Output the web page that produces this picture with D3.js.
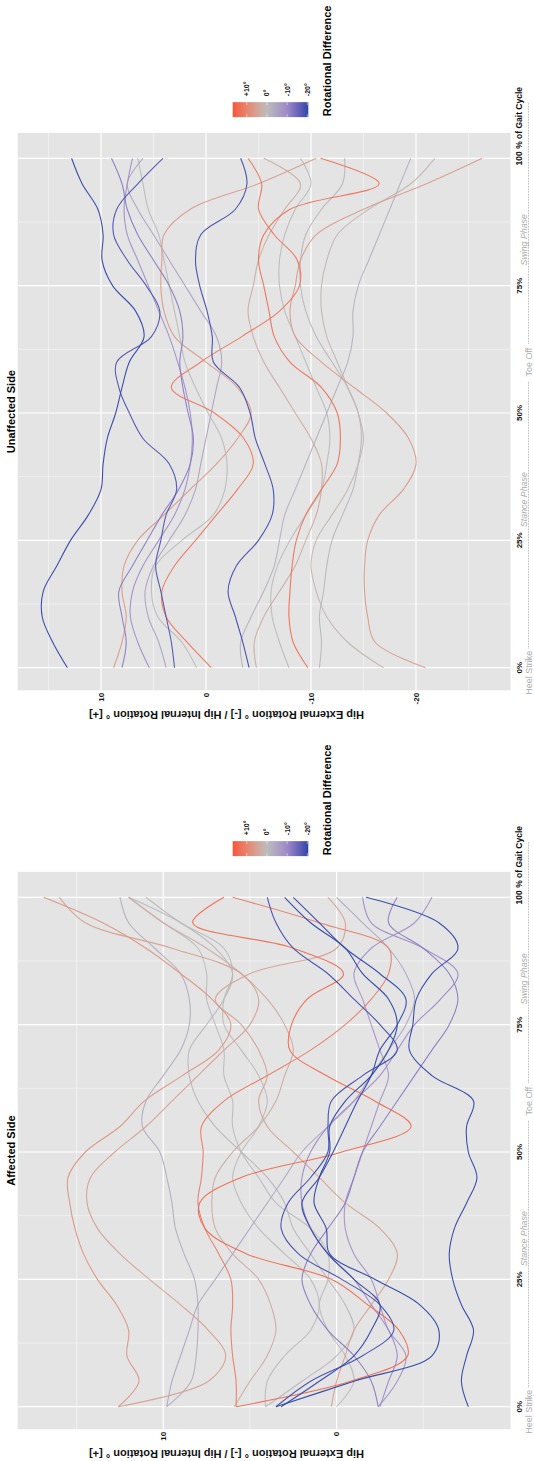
<!DOCTYPE html>
<html>
<head>
<meta charset="utf-8">
<script src="https://cdn.jsdelivr.net/npm/d3@7"></script>
<style>
  body { margin: 0; background: #fff; }
  svg { display: block; }
  text { font-family: "Liberation Sans", Arial, sans-serif; }
</style>
</head>
<body>
<svg id="chart" width="534" height="1461"></svg>
<script>
// Gait cycle sample points (% of gait cycle)
const gaitCycle = d3.range(0, 101, 5);

// Axis ticks
const xMajorTicks = [0, 25, 50, 75, 100];
const xMinorTicks = [12.5, 37.5, 62.5, 87.5];
const xTickLabels = ["0%", "25%", "50%", "75%", "100"];
const affectedYMajor = [0, 10];
const affectedYMinor = [-5, 5, 15];
const unaffectedYMajor = [-20, -10, 0, 10];
const unaffectedYMinor = [-25, -15, -5, 5, 15];
const legendTicks = [10, 0, -10, -20];
const legendLabels = ["+10°", "0°", "-10°", "-20°"];

// Rotational difference per subject (colour of each curve)
const affectedDiff = [7, 5, -3, 14, 11, 3, 0, -19, -20, -21, -10, -20, -1, -8, 5, 0, -12, -4];
// Hip rotation (deg) on the affected side, one row per subject, sampled at gaitCycle
const affectedRotation = [
  [12.6, 11.4, 12.1, 12.0, 12.7, 13.8, 14.6, 15.1, 15.4, 15.5, 14.5, 12.5, 11.1, 8.9, 6.8, 6.1, 7.2, 9.0, 11.0, 13.5, 16.9],
  [12.6, 7.4, 6.4, 7.4, 9.0, 10.8, 12.5, 13.8, 14.4, 14.2, 12.8, 11.0, 9.5, 8.0, 6.5, 5.0, 4.5, 5.5, 9.5, 14.5, 16.0],
  [9.8, 8.4, 8.1, 8.0, 8.0, 8.2, 8.8, 9.3, 9.5, 9.8, 10.2, 11.2, 11.0, 10.0, 9.0, 8.5, 8.5, 9.0, 10.5, 12.0, 12.5],
  [5.8, -0.8, -4.1, -3.6, -1.8, 0.3, 5.2, 7.6, 7.9, 5.5, -0.3, -4.3, -2.2, 0.6, 2.7, 2.6, 1.7, -0.4, 2.5, 8.3, 6.5],
  [5.8, 5.8, 6.0, 6.1, 6.0, 6.1, 6.8, 7.6, 8.0, 7.8, 7.7, 7.8, 6.5, 4.0, 1.5, -0.5, -2.0, -3.0, -3.0, 1.0, 6.0],
  [5.9, 5.0, 4.0, 3.5, 3.8, 4.5, 6.0, 7.0, 7.2, 7.0, 6.0, 4.5, 3.5, 3.0, 2.5, 3.0, 4.0, 5.5, 7.5, 10.0, 12.0],
  [4.1, 4.0, 3.0, 1.5, 1.0, 1.5, 3.0, 4.5, 5.5, 6.0, 5.5, 4.5, 4.0, 4.5, 5.5, 6.5, 6.5, 6.0, 6.5, 9.0, 11.0],
  [3.5, 1.5, -1.5, -3.3, -2.5, -0.3, 2.2, 3.2, 2.8, 1.5, 0.5, 0.5, 0.3, -1.5, -3.5, -2.5, -1.0, 0.5, 2.5, 3.5, 4.0],
  [3.2, 1.0, -1.0, -2.0, -2.5, -1.0, 0.5, 1.5, 2.0, 1.0, 0.2, -0.5, -1.2, -2.0, -2.5, -3.5, -4.0, -2.5, -0.5, 1.0, 2.5],
  [3.5, -1.0, -5.5, -5.9, -4.8, -2.2, 0.4, 0.6, 1.3, 1.0, 0.4, 0.4, -0.5, -2.0, -3.0, -3.5, -3.0, -1.5, -0.5, 1.5, 3.0],
  [-2.5, -3.0, -3.5, -3.0, -2.0, -1.0, 0.5, 1.5, 2.0, 2.0, 1.5, 0.5, -1.0, -2.5, -3.5, -4.5, -6.0, -7.0, -5.0, -2.0, -1.5],
  [-7.6, -7.2, -7.5, -7.9, -7.2, -6.7, -6.5, -6.8, -7.5, -8.1, -7.6, -7.5, -7.9, -5.5, -4.2, -4.4, -4.6, -5.5, -7.0, -5.9, -1.7],
  [4.1, 2.0, 0.0, -1.0, -0.5, 0.5, 1.5, 2.5, 3.0, 4.0, 5.5, 7.0, 8.0, 8.5, 8.5, 7.5, 6.5, 6.0, 7.0, 9.0, 12.0],
  [-2.4, -3.5, -4.0, -3.0, -2.5, -2.0, -1.0, -0.5, -0.5, -1.0, -1.5, -2.0, -2.5, -3.0, -2.5, -2.0, -1.5, -1.0, -2.0, -4.5, -5.5],
  [0.3, 0.0, -0.5, -1.0, -2.0, -3.0, -3.5, -2.5, -0.5, 1.0, 2.5, 4.0, 4.5, 4.0, 4.5, 5.5, 7.0, 5.0, 0.0, -0.5, 0.5],
  [0.0, -1.0, -0.5, 0.5, 1.0, 0.5, 0.5, 1.5, 3.5, 4.5, 5.5, 6.0, 6.0, 6.5, 6.5, 7.0, 7.5, 7.5, 8.0, 10.0, 12.0],
  [-2.4, -2.0, -1.0, 0.5, 1.5, 2.0, 1.5, 0.5, -0.5, -1.0, -1.5, -2.5, -3.5, -4.5, -5.5, -6.5, -7.0, -6.5, -5.0, -3.0, -3.5],
  [9.8, 9.5, 9.0, 8.5, 8.0, 7.0, 6.0, 5.0, 4.0, 3.0, 2.0, 0.5, -1.0, -2.0, -3.0, -4.0, -4.5, -4.0, -3.0, -1.5, 0.0]
];

const unaffectedDiff = [-20, -18, -19, -12, -9, -5, 0, 12, 6, -2, 3, 13, 0, -1, 1, 6];
// Hip rotation (deg) on the unaffected side
const unaffectedRotation = [
  [13.2, 14.6, 15.6, 15.5, 14.2, 12.9, 11.2, 10.0, 9.8, 9.4, 8.6, 8.0, 7.3, 5.9, 6.7, 8.9, 9.9, 9.8, 10.3, 11.8, 12.8],
  [3.0, 3.3, 3.8, 4.3, 4.8, 4.3, 3.8, 2.8, 3.5, 6.0, 7.3, 8.3, 8.5, 5.2, 4.4, 5.7, 7.5, 8.8, 8.5, 6.5, 4.1],
  [-4.1, -3.5, -2.8, -2.1, -2.9, -5.0, -6.3, -6.4, -5.6, -4.7, -4.2, -3.2, -0.7, -0.6, -0.1, 0.6, 1.0, 0.5, -2.8, -3.9, -3.3],
  [8.0, 7.6, 8.0, 8.3, 7.0, 5.6, 4.2, 2.6, 1.5, 1.2, 1.7, 2.2, 2.5, 2.2, 2.5, 3.5, 5.0, 6.5, 7.5, 8.0, 9.0],
  [5.4, 6.5, 7.2, 7.0, 6.0, 4.5, 3.0, 2.0, 1.5, 1.3, 1.5, 2.0, 2.7, 3.5, 4.5, 5.5, 6.5, 7.5, 7.8, 7.5, 7.0],
  [3.8, 4.5, 5.5, 5.8, 5.0, 3.5, 2.0, 1.0, 0.5, 0.0, -0.5, -1.0, -1.5, -1.0, 0.5, 2.0, 3.5, 5.0, 6.5, 7.5, 6.0],
  [0.9, 2.3, 4.6, 5.2, 4.8, 2.3, -0.7, -1.8, -2.0, -1.5, -0.2, 1.0, 2.0, 2.5, 3.0, 3.5, 4.0, 4.5, 5.5, 6.0, 6.5],
  [-0.5, 1.8, 3.8, 4.2, 3.0, 1.0, -1.0, -3.0, -4.5, -3.6, -0.8, 3.3, 0.5, -3.4, -7.0, -8.9, -8.7, -6.5, -5.0, -5.3, -4.0],
  [8.8, 8.0, 7.6, 8.0, 7.8, 6.5, 4.0, 1.5, -1.0, -3.0, -4.3, -3.0, 0.0, 3.0, 4.0, 4.3, 4.2, 4.0, 1.5, -5.0, -10.5],
  [-3.5, -3.3, -4.3, -5.5, -6.5, -7.0, -7.5, -8.5, -9.5, -10.5, -11.5, -12.5, -13.5, -14.0, -14.0, -14.5, -15.5, -16.5, -17.5, -18.5, -19.5],
  [-4.8, -4.6, -5.5, -7.0, -8.5, -9.5, -10.5, -11.0, -11.0, -10.0, -8.5, -7.0, -5.5, -4.5, -4.0, -4.5, -5.0, -6.0, -7.5, -9.0, -5.5],
  [-9.7, -8.3, -7.9, -8.0, -8.2, -8.6, -9.5, -11.0, -12.5, -12.8, -12.5, -11.0, -8.0, -6.5, -6.0, -5.5, -5.0, -5.5, -8.0, -16.5, -10.9],
  [-7.9, -7.0, -6.3, -6.2, -6.8, -8.0, -9.5, -11.0, -11.5, -11.8, -11.5, -10.5, -9.5, -8.5, -7.5, -7.0, -7.0, -7.5, -8.5, -10.0, -9.0],
  [-10.8, -11.0, -10.8, -11.2, -11.5, -12.0, -13.0, -14.0, -14.5, -14.8, -14.5, -13.5, -12.0, -10.5, -9.5, -9.0, -9.0, -9.5, -11.0, -13.0, -13.2],
  [-16.9, -13.5, -11.5, -10.5, -10.0, -10.5, -12.0, -13.5, -14.5, -15.0, -14.5, -13.5, -12.5, -11.5, -11.0, -11.0, -11.5, -12.5, -15.5, -19.5, -21.8],
  [-20.9, -16.1, -15.4, -15.1, -15.1, -15.4, -16.5, -18.8, -20.0, -19.3, -17.2, -14.1, -11.0, -8.5, -8.0, -8.5, -9.0, -10.5, -15.0, -21.0, -26.3]
];

// ---- drawing ----
const svg = d3.select("#chart");
svg.append("rect").attr("width", 534).attr("height", 1461).attr("fill", "#fff");

// The figure is laid out landscape (1461 x 534) and turned a quarter turn.
const root = svg.append("g").attr("transform", "translate(0,1461) rotate(-90)");

const colour = d3.scaleLinear()
  .domain([17, 0, -10, -20.5])
  .range(["#f5553a", "#bcbcbc", "#9e8ac9", "#2c44a8"])
  .interpolate(d3.interpolateLab)
  .clamp(true);

const defs = svg.append("defs");
const grad = defs.append("linearGradient").attr("id", "diffGrad")
  .attr("x1", 0).attr("y1", 0).attr("x2", 0).attr("y2", 1);
d3.range(0, 1.0001, 0.05).forEach(t => {
  grad.append("stop").attr("offset", t).attr("stop-color", colour(17 - t * 37.5));
});

function drawPanel(cfg) {
  const g = root.append("g");
  const x = d3.scaleLinear().domain([0, 100]).range([cfg.x0, cfg.x100]);
  const y = d3.scaleLinear().domain([0, 10]).range([cfg.y0, cfg.y10]);
  const left = x(-4.44), right = x(105);
  const top = 17.7, bottom = 510.5;

  g.append("rect").attr("x", left).attr("y", top)
    .attr("width", right - left).attr("height", bottom - top).attr("fill", "#e4e4e4");

  // grid
  g.selectAll(".ym").data(cfg.yMinor).join("line")
    .attr("x1", left).attr("x2", right).attr("y1", d => y(d)).attr("y2", d => y(d))
    .attr("stroke", "#f7f7f7").attr("stroke-width", 0.6);
  g.selectAll(".xm").data(xMinorTicks).join("line")
    .attr("x1", d => x(d)).attr("x2", d => x(d)).attr("y1", top).attr("y2", bottom)
    .attr("stroke", "#f7f7f7").attr("stroke-width", 0.6);
  g.selectAll(".yM").data(cfg.yMajor).join("line")
    .attr("x1", left).attr("x2", right).attr("y1", d => y(d)).attr("y2", d => y(d))
    .attr("stroke", "#fff").attr("stroke-width", 1.2);
  g.selectAll(".xM").data(xMajorTicks).join("line")
    .attr("x1", d => x(d)).attr("x2", d => x(d)).attr("y1", top).attr("y2", bottom)
    .attr("stroke", "#fff").attr("stroke-width", 1.2);

  // curves, light ones first
  const line = d3.line()
    .x((d, i) => x(gaitCycle[i]))
    .y(d => y(d))
    .curve(d3.curveCatmullRom.alpha(0.5));
  const order = d3.range(cfg.data.length).sort((a, b) => Math.abs(cfg.diff[a]) - Math.abs(cfg.diff[b]));
  g.selectAll(".curve").data(order).join("path")
    .attr("d", i => line(cfg.data[i]))
    .attr("fill", "none")
    .attr("stroke", i => colour(cfg.diff[i]))
    .attr("stroke-width", 1.1)
    .attr("stroke-opacity", 0.95);

  // y tick labels
  g.selectAll(".yl").data(cfg.yMajor).join("text")
    .attr("x", left - 2.5).attr("y", d => y(d) + 2.8)
    .attr("text-anchor", "end").attr("font-size", 8).attr("font-weight", "bold")
    .attr("fill", "#111").text(d => d);

  // y axis title
  g.append("text")
    .attr("transform", `translate(${left - 21},226.5) rotate(-90)`)
    .attr("text-anchor", "middle").attr("font-size", 11).attr("font-weight", "bold")
    .attr("fill", "#111")
    .text("Hip External Rotation ° [-] / Hip Internal Rotation ° [+]");

  // x tick labels
  xMajorTicks.forEach((t, i) => {
    if (t < 100) {
      g.append("text").attr("x", x(t)).attr("y", 522).attr("text-anchor", "middle")
        .attr("font-size", 8).attr("font-weight", "bold").attr("fill", "#111").text(xTickLabels[i]);
    } else {
      const lab = g.append("text").attr("y", 522).attr("font-size", 8.5)
        .attr("font-weight", "bold").attr("fill", "#111").text(xTickLabels[i] + " % of Gait Cycle");
      const probe = g.append("text").attr("font-size", 8.5).attr("font-weight", "bold").text(xTickLabels[i]);
      const w = probe.node().getComputedTextLength();
      probe.remove();
      lab.attr("x", x(t) - w / 2);
    }
  });

  // gait events and phases
  const grey = "#ababab";
  g.append("text").attr("x", x(-1)).attr("y", 532).attr("text-anchor", "middle")
    .attr("font-size", 9).attr("fill", grey).text("Heel Strike");
  g.append("text").attr("x", x(60)).attr("y", 532).attr("text-anchor", "middle")
    .attr("font-size", 9).attr("fill", grey).text("Toe Off");
  [[3.8, 56.3], [63.6, 111]].forEach(([a, b]) => {
    g.append("line").attr("x1", x(a)).attr("x2", x(b)).attr("y1", 528.5).attr("y2", 528.5)
      .attr("stroke", "#9a9a9a").attr("stroke-width", 0.8).attr("stroke-dasharray", "0.8,0.8");
  });
  g.append("text").attr("x", x(33)).attr("y", 527).attr("text-anchor", "middle")
    .attr("font-size", 8.8).attr("font-style", "italic").attr("fill", grey).text("Stance Phase");
  g.append("text").attr("x", x(84)).attr("y", 527).attr("text-anchor", "middle")
    .attr("font-size", 8.8).attr("font-style", "italic").attr("fill", grey).text("Swing Phase");

  // panel title
  g.append("text").attr("x", (left + right) / 2).attr("y", 15).attr("text-anchor", "middle")
    .attr("font-size", 11).attr("font-weight", "bold").attr("fill", "#000").text(cfg.title);

  // colour legend
  const lx = right + 15.7;
  const ls = d3.scaleLinear().domain([17, -20.5]).range([232.7, 308.3]);
  g.append("rect").attr("x", lx).attr("y", ls(17)).attr("width", 15)
    .attr("height", ls(-20.5) - ls(17)).attr("fill", "url(#diffGrad)");
  legendTicks.forEach(t => {
    g.append("line").attr("x1", lx).attr("x2", lx + 3).attr("y1", ls(t)).attr("y2", ls(t))
      .attr("stroke", "#fff").attr("stroke-width", 0.6).attr("stroke-opacity", 0.8);
    g.append("line").attr("x1", lx + 12).attr("x2", lx + 15).attr("y1", ls(t)).attr("y2", ls(t))
      .attr("stroke", "#fff").attr("stroke-width", 0.6).attr("stroke-opacity", 0.8);
  });
  g.selectAll(".ll").data(legendTicks).join("text")
    .attr("x", lx + 21).attr("y", d => ls(d) + 2.5)
    .attr("font-size", 7).attr("font-weight", "bold").attr("fill", "#111")
    .text((d, i) => legendLabels[i]);
  g.append("text").attr("x", lx + 1).attr("y", 331)
    .attr("font-size", 11).attr("font-weight", "bold").attr("fill", "#000")
    .text("Rotational Difference");
}

drawPanel({
  title: "Affected Side",
  x0: 54.3, x100: 563.7, y0: 336.6, y10: 163.3,
  yMajor: affectedYMajor, yMinor: affectedYMinor,
  data: affectedRotation, diff: affectedDiff
});
drawPanel({
  title: "Unaffected Side",
  x0: 793.3, x100: 1302.7, y0: 206, y10: 101,
  yMajor: unaffectedYMajor, yMinor: unaffectedYMinor,
  data: unaffectedRotation, diff: unaffectedDiff
});
</script>
</body>
</html>
